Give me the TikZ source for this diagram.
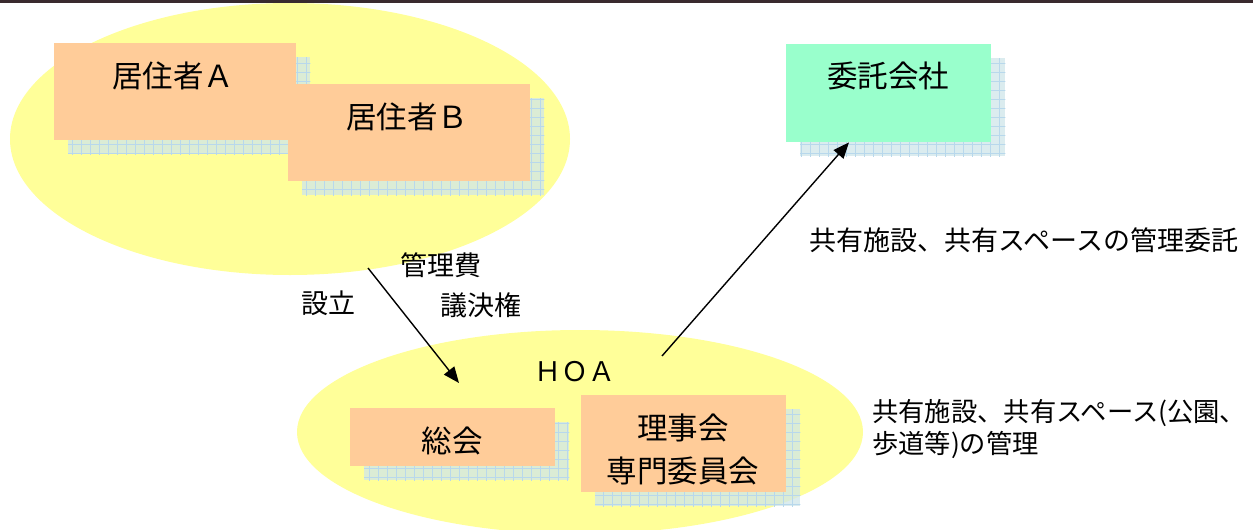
\documentclass[tikz,border=0pt]{standalone}
\usepackage{fontspec}
\setmainfont{Noto Sans CJK JP}
\usetikzlibrary{arrows.meta,shapes.geometric}
\definecolor{ellc}{HTML}{FFFF99}
\definecolor{boxc}{HTML}{FFCC99}
\definecolor{mintc}{HTML}{99FFCC}
\definecolor{shdc}{HTML}{CFE6EA}
\definecolor{grdc}{HTML}{B8D8EC}
\definecolor{topc}{HTML}{3A2A2E}
\newcommand\shadowof[1]{%
  \fill[shdc,opacity=.75] ([shift={(14,14)}]#1.south west) rectangle ([shift={(14,14)}]#1.north east);
  \begin{scope}
    \clip ([shift={(14,14)}]#1.south west) rectangle ([shift={(14,14)}]#1.north east);
    \draw[grdc, line width=.6pt, step=9pt] (0,530) grid (1253,0);
  \end{scope}}
\begin{document}
\begin{tikzpicture}[x=1pt,y=-1pt,
  ellfill/.style={fill=ellc, draw=none},
  obox/.style={fill=boxc, draw=none, inner sep=0pt, anchor=north west},
  mbox/.style={fill=mintc, draw=none, inner sep=0pt, anchor=north west},
  big/.style={font=\fontsize{30.5}{36}\selectfont, inner sep=0pt},
  lbl/.style={font=\fontsize{27}{32}\selectfont, inner sep=0pt},
  arr/.style={line width=1.4pt, -{Triangle[length=16pt,width=13pt]}}]
\useasboundingbox (0,0) rectangle (1253,530);
\clip (0,0) rectangle (1253,530);
\fill[white] (0,0) rectangle (1253,530);
% ellipses
\node[ellfill, ellipse, minimum width=560pt, minimum height=272pt, inner sep=0pt] (e1) at (290,139) {};
\node[ellfill, ellipse, minimum width=566pt, minimum height=204pt, inner sep=0pt] (hoa) at (580,432) {};
% top line
\fill[topc] (0,0) rectangle (1253,2.7);
% residents
\node[obox, minimum width=242pt, minimum height=97pt] (boxA) at (54,43) {};
\shadowof{boxA}
\node[obox, minimum width=242pt, minimum height=97pt] at (54,43) {};
\node[big] (tA) at (173,76) {居住者Ａ};
\node[obox, minimum width=242pt, minimum height=97pt] (boxB) at (288,84) {};
\shadowof{boxB}
\node[obox, minimum width=242pt, minimum height=97pt] at (288,84) {};
\node[big] (tB) at (407,117) {居住者Ｂ};
% contractor
\node[mbox, minimum width=205pt, minimum height=98pt] (boxT) at (786,44) {};
\shadowof{boxT}
\node[mbox, minimum width=205pt, minimum height=98pt] at (786,44) {};
\node[big] (tT) at (888,76) {委託会社};
% HOA boxes
\node[obox, minimum width=205pt, minimum height=58pt] (boxS) at (350,408) {};
\shadowof{boxS}
\node[obox, minimum width=205pt, minimum height=58pt] at (350,408) {};
\node[big] (tS) at (452,441) {総会};
\node[obox, minimum width=205pt, minimum height=97pt] (boxR) at (581,395) {};
\shadowof{boxR}
\node[obox, minimum width=205pt, minimum height=97pt] at (581,395) {};
\node[big, align=center, font=\fontsize{30.5}{43}\selectfont] (tR) at (683,449) {理事会\\専門委員会};
\node[lbl] (tH) at (575,372) {ＨＯＡ};
% labels
\node[lbl] (l1) at (441,265) {管理費};
\node[lbl] (l2) at (328,303) {設立};
\node[lbl] (l3) at (481,305) {議決権};
\node[lbl] (l4) at (1024,240) {共有施設、共有スペースの管理委託};
\node[lbl, anchor=west, align=left, font=\fontsize{26.3}{32}\selectfont] (l5) at (872,429) {共有施設、共有スペース(公園、\\歩道等)の管理};
% arrows
\coordinate (a1s) at (368,268);
\coordinate (a1e) at (459,383);
\coordinate (a2s) at (662,356);
\draw[arr] (a1s) -- (a1e);
\draw[arr] (a2s) -- ([xshift=63pt]boxT.south west);
\end{tikzpicture}
\end{document}
